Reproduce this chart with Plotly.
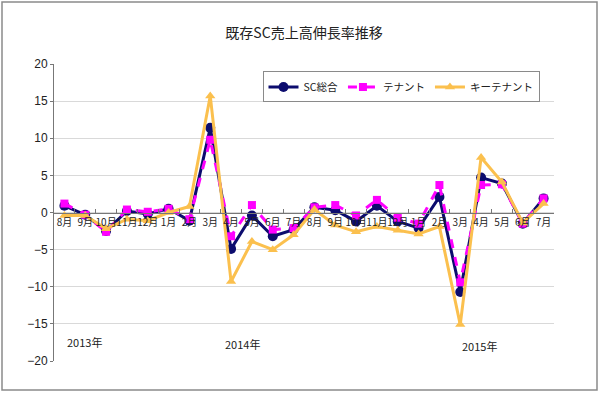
import plotly.graph_objects as go

months = ["8月", "9月", "10月", "11月", "12月", "1月", "2月", "3月", "4月", "5月", "6月", "7月",
          "8月", "9月", "10月", "11月", "12月", "1月", "2月", "3月", "4月", "5月", "6月", "7月"]
sc_total = [0.9, -0.3, -2.5, 0.2, -0.2, 0.5, -1.1, 11.4, -4.9, -0.4, -3.2, -2.3,
            0.7, 0.3, -1.2, 0.9, -1.2, -2.1, 2.1, -10.7, 4.7, 3.9, -1.5, 1.9]
tenant = [1.2, -0.3, -2.6, 0.4, 0.1, 0.5, -0.9, 9.8, -3.2, 1.0, -2.3, -2.1,
          0.7, 1.0, -0.4, 1.7, -0.7, -1.5, 3.7, -9.4, 3.7, 3.8, -1.5, 1.9]
key_tenant = [-0.4, -0.4, -2.2, -0.9, -1.1, 0.0, 0.8, 15.7, -9.3, -3.9, -5.0, -3.0,
              0.4, -1.7, -2.6, -1.9, -2.4, -2.9, -1.9, -15.1, 7.4, 4.1, -1.4, 1.2]
years = ["2013年", "2014年", "2015年"]
year_pos = [0.95, 8.55, 19.9]
year_y = [-17.5, -17.7, -18.0]

x = list(range(len(months)))
jp = "Noto Sans CJK JP"

fig = go.Figure()
fig.add_trace(go.Scatter(x=x, y=sc_total, name="SC総合", mode="lines+markers",
                         line=dict(color="#0c0c6e", width=3),
                         marker=dict(symbol="circle", size=10, color="#0c0c6e")))
fig.add_trace(go.Scatter(x=x, y=tenant, name="テナント", mode="lines+markers",
                         line=dict(color="#ff00ff", width=3, dash="dash"),
                         marker=dict(symbol="square", size=8, color="#ff00ff")))
fig.add_trace(go.Scatter(x=x, y=key_tenant, name="キーテナント", mode="lines+markers",
                         line=dict(color="#fbc04e", width=3),
                         marker=dict(symbol="triangle-up", size=9, color="#fbc04e")))

for t, px, py in zip(years, year_pos, year_y):
    fig.add_annotation(x=px, y=py, text=t, showarrow=False, xref="x", yref="y",
                       font=dict(family=jp, size=11, color="#222"))

fig.add_shape(type="rect", xref="paper", yref="paper",
              x0=-0.104, x1=1.086, y0=-0.098, y1=1.209,
              line=dict(color="#8a8a8a", width=1.5), layer="below")

fig.update_layout(
    width=600, height=393,
    margin=dict(l=54, r=46, t=64, b=32, autoexpand=False),
    paper_bgcolor="white", plot_bgcolor="white",
    title=dict(text="既存SC売上高伸長率推移", x=0.5, xref="paper", y=0.916, yref="container",
               xanchor="center", yanchor="middle", font=dict(family=jp, size=14, color="#222")),
    font=dict(family=jp, color="#222"),
    showlegend=True,
    legend=dict(orientation="h", x=0.694, y=0.975, xanchor="center", yanchor="top",
                bordercolor="#8a8a8a", borderwidth=1, bgcolor="white",
                font=dict(family=jp, size=10.5, color="#222"),
                itemwidth=30, tracegroupgap=0),
    xaxis=dict(range=[-0.5, len(months) - 0.5], tickmode="array", tickvals=x, ticktext=months,
               anchor="free", position=0.5, showline=True, linecolor="#777", linewidth=1,
               showgrid=False, zeroline=False, ticks="", ticklen=0, tickangle=0,
               tickfont=dict(family=jp, size=10, color="#222"),
               minor=dict(tickmode="array", tickvals=[i - 0.5 for i in range(1, len(months))],
                          ticks="inside", ticklen=4, tickcolor="#777", showgrid=False)),
    yaxis=dict(range=[-20, 20], dtick=5, showgrid=True, gridcolor="#d9d9d9", gridwidth=1,
               showline=True, linecolor="#777", linewidth=1, zeroline=False,
               ticks="outside", ticklen=3, tickcolor="#777",
               tickfont=dict(family="Liberation Sans", size=12, color="#222")),
)

fig.write_html("out.html", config={"displayModeBar": False},
               post_script="document.body.style.margin='0';")
